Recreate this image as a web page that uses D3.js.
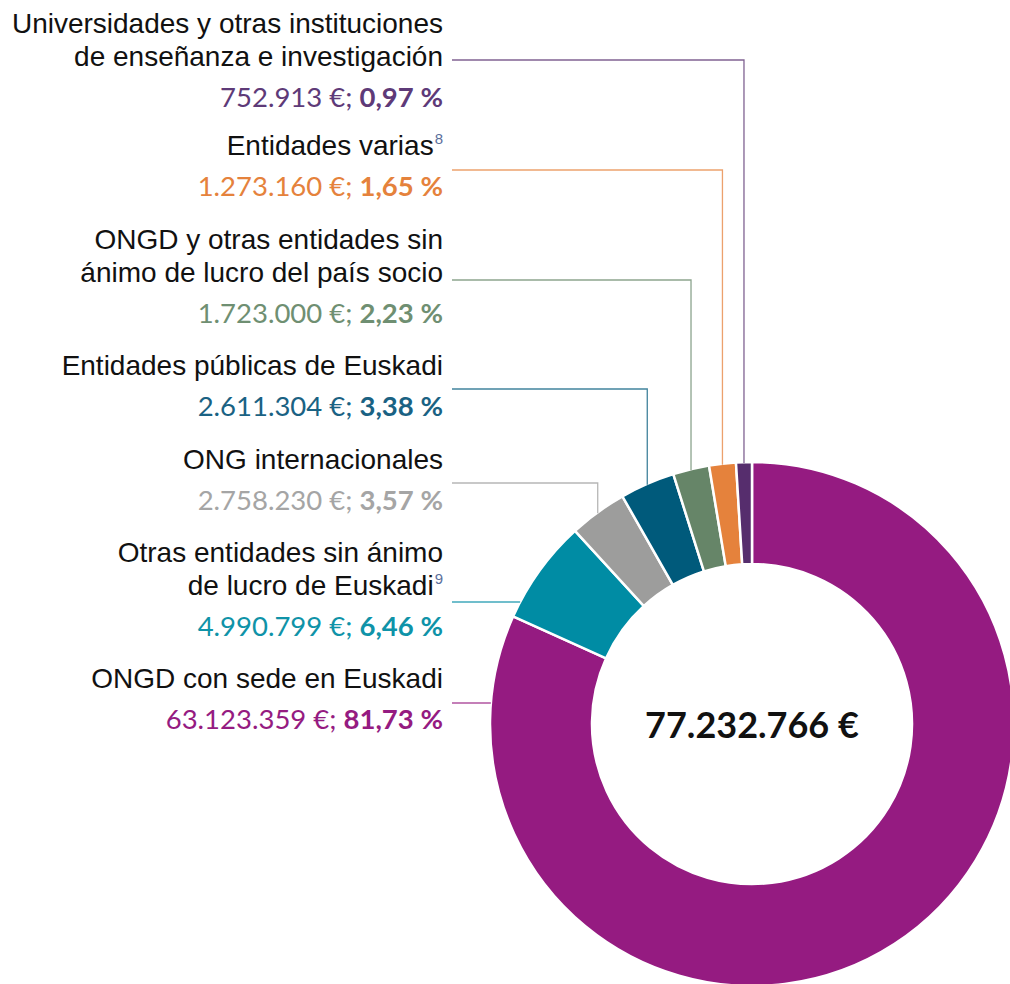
<!DOCTYPE html>
<html>
<head>
<meta charset="utf-8">
<script src="https://cdn.jsdelivr.net/npm/d3@7"></script>
<style>
  body { margin: 0; background: #fff; }
  .lbl { font-family: Arial, "Liberation Sans", Arimo, Helvetica, sans-serif; font-size: 28px; fill: #111; }
  .val { font-family: "Lato", sans-serif; font-size: 27.5px; }
  .total { font-family: "Lato", sans-serif; font-size: 36px; font-weight: 700; fill: #111; }
</style>
</head>
<body>
<div id="chart"></div>
<script>
// data, in pie order (clockwise from 12 o'clock)
var categories = [
  "ONGD con sede en Euskadi",
  "Otras entidades sin ánimo de lucro de Euskadi",
  "ONG internacionales",
  "Entidades públicas de Euskadi",
  "ONGD y otras entidades sin ánimo de lucro del país socio",
  "Entidades varias",
  "Universidades y otras instituciones de enseñanza e investigación"
];
var labelLines = [
  ["ONGD con sede en Euskadi"],
  ["Otras entidades sin ánimo", "de lucro de Euskadi"],
  ["ONG internacionales"],
  ["Entidades públicas de Euskadi"],
  ["ONGD y otras entidades sin", "ánimo de lucro del país socio"],
  ["Entidades varias"],
  ["Universidades y otras instituciones", "de enseñanza e investigación"]
];
var footnotes = ["", "9", "", "", "", "8", ""];
var amounts = [63123359, 4990799, 2758230, 2611304, 1723000, 1273160, 752913];
var shares = [81.73, 6.46, 3.57, 3.38, 2.23, 1.65, 0.97];
var total = 77232766;

var colors = ["#951b81", "#008ca4", "#9d9d9c", "#005a7b", "#668568", "#e5823c", "#562d6d"];
var valueColors = ["#951b81", "#0f93a8", "#a5a5a5", "#1a6283", "#6f8f72", "#e5823c", "#5e3a78"];

// layout
var width = 1010, height = 984;
var cx = 752, cy = 724, outerR = 262, innerR = 160;
var labelRight = 443, leaderStart = 452;
var firstBaseline = [688, 562, 469, 375, 249, 155, 33];
var lineGap = 33, valueGap = 41;
var leaderY = [703, 602, 483, 389, 280, 170, 60];
/* first two leaders run straight into the ring, the rest drop down from above */
var leaderElbow = [false, false, true, true, true, true, true];

var locale = d3.formatLocale({decimal: ",", thousands: ".", grouping: [3], currency: ["", " €"]});
var fmtAmount = locale.format(",");
var fmtShare = locale.format(".2f");

var svg = d3.select("#chart").append("svg")
    .attr("width", width)
    .attr("height", height);

var pie = d3.pie().sort(null).value(function(d) { return d; });
var arcs = pie(amounts);

var arc = d3.arc().innerRadius(innerR).outerRadius(outerR);

var g = svg.append("g").attr("transform", "translate(" + cx + "," + cy + ")");

g.selectAll("path")
    .data(arcs)
    .enter()
    .append("path")
    .attr("d", arc)
    .attr("fill", function(d, i) { return colors[i]; })
    .attr("stroke", "#fff")
    .attr("stroke-width", 2.5)
    .attr("stroke-linejoin", "miter");

g.append("text")
    .attr("class", "total")
    .attr("text-anchor", "middle")
    .attr("y", 14)
    .text(fmtAmount(total) + " €");

/* leader lines */
arcs.forEach(function(a, i) {
  var y = leaderY[i];
  var pts;
  if (!leaderElbow[i]) {
    var ex = cx - Math.sqrt(outerR * outerR - (y - cy) * (y - cy));
    pts = [[leaderStart, y], [ex, y]];
  } else {
    var ang = (a.startAngle + a.endAngle) / 2;
    var x = cx + outerR * Math.sin(ang);
    var ey = cy - Math.sqrt(outerR * outerR - (x - cx) * (x - cx));
    pts = [[leaderStart, y], [x, y], [x, ey + 1]];
  }
  svg.append("path")
      .attr("d", d3.line()(pts))
      .attr("fill", "none")
      .attr("stroke", colors[i])
      .attr("stroke-opacity", 0.75)
      .attr("stroke-width", 1.3);
});

/* labels */
labelLines.forEach(function(lines, i) {
  lines.forEach(function(line, k) {
    var t = svg.append("text")
        .attr("class", "lbl")
        .attr("x", labelRight)
        .attr("y", firstBaseline[i] + k * lineGap)
        .attr("text-anchor", "end");
    t.append("tspan").text(line);
    if (k === lines.length - 1 && footnotes[i]) {
      t.append("tspan")
          .attr("dx", 1)
          .attr("dy", -11)
          .style("font-size", "15px")
          .style("fill", "#5b6f9c")
          .text(footnotes[i]);
    }
  });
  var vy = firstBaseline[i] + (lines.length - 1) * lineGap + valueGap;
  var v = svg.append("text")
      .attr("class", "val")
      .attr("x", labelRight)
      .attr("y", vy)
      .attr("text-anchor", "end")
      .style("fill", valueColors[i]);
  v.append("tspan").style("font-weight", 400).text(fmtAmount(amounts[i]) + " €; ");
  v.append("tspan").style("font-weight", 700).text(fmtShare(shares[i]) + " %");
});
</script>
</body>
</html>
